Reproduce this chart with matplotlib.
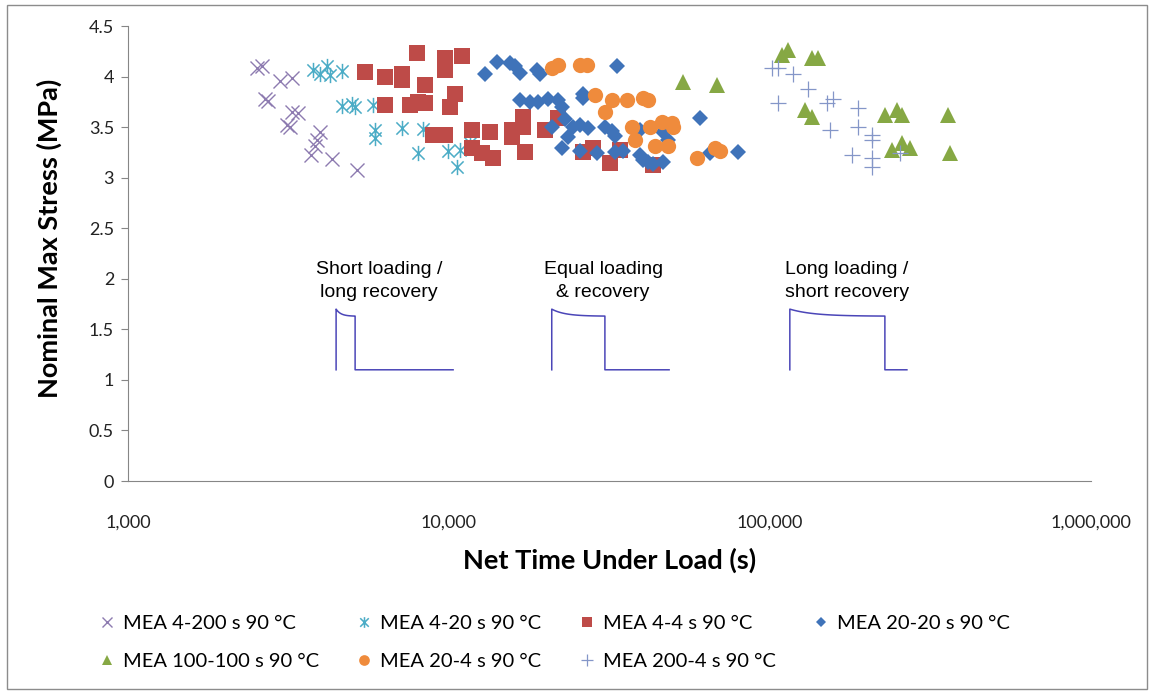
import numpy as np
import matplotlib.pyplot as plt
from matplotlib.path import Path
from matplotlib.patches import Rectangle
from matplotlib.ticker import FixedLocator, FuncFormatter, NullLocator

plt.rcParams['font.family'] = ['Lato', 'DejaVu Sans']

# net time under load (s) and nominal max stress (MPa) per test series
t_4_200 = [2520, 2610, 2980, 3240, 2670, 2730, 3240, 3390, 3120, 3200, 3960, 3870, 3830, 3730, 4310, 5160]
s_4_200 = [4.08, 4.10, 3.96, 3.99, 3.78, 3.76, 3.65, 3.64, 3.52, 3.50, 3.45, 3.37, 3.31, 3.22, 3.18, 3.08]

t_4_20 = [3780, 3960, 4160, 4260, 4630, 4630, 4980, 5100, 5810, 5880, 5880, 7120, 8320, 8020, 9950, 10820, 10560, 11610]
s_4_20 = [4.07, 4.03, 4.10, 4.02, 4.06, 3.71, 3.73, 3.70, 3.72, 3.47, 3.39, 3.49, 3.48, 3.24, 3.26, 3.27, 3.11, 3.34]

t_4_4 = [5470, 6310, 7130, 7130, 7930, 8410, 9720, 9720, 10950, 6310, 7550, 8000, 8410, 10450, 10070,
         8910, 9720, 11780, 13430, 11780, 12640, 13710, 15670, 15670, 17000, 17000, 17250, 19910,
         21880, 26140, 28100, 31750, 34120, 43240]
s_4_4 = [4.05, 4.00, 4.03, 3.97, 4.23, 3.92, 4.18, 4.07, 4.20, 3.72, 3.72, 3.75, 3.74, 3.83, 3.70,
         3.42, 3.42, 3.47, 3.45, 3.29, 3.24, 3.19, 3.47, 3.40, 3.60, 3.50, 3.25, 3.47,
         3.59, 3.25, 3.29, 3.15, 3.27, 3.13]

t_20_20 = [12940, 14080, 15500, 16070, 16650, 18760, 19200, 33270,
           16650, 17870, 18920, 20330, 21860, 22500, 26140, 26140,
           22980, 20880, 24330, 25560, 27090, 23500, 30610, 32130, 32900, 39360, 46440, 48100,
           22450, 25560, 28840, 32900, 34830, 39360, 40200, 41690, 43230, 46440, 60520, 65040, 79470]
s_20_20 = [4.03, 4.14, 4.13, 4.10, 4.04, 4.07, 4.03, 4.10,
           3.77, 3.75, 3.75, 3.78, 3.77, 3.70, 3.83, 3.79,
           3.58, 3.50, 3.50, 3.52, 3.49, 3.40, 3.50, 3.46, 3.41, 3.47, 3.45, 3.37,
           3.29, 3.26, 3.24, 3.25, 3.26, 3.22, 3.17, 3.16, 3.14, 3.16, 3.59, 3.24, 3.25]

t_100_100 = [53700, 68300, 108700, 114000, 134800, 141300, 128500, 134800,
             228000, 248100, 257100, 359000, 239200, 257100, 273000, 363700]
s_100_100 = [3.95, 3.92, 4.21, 4.26, 4.18, 4.18, 3.67, 3.60,
             3.62, 3.67, 3.62, 3.62, 3.27, 3.34, 3.29, 3.24]

t_20_4 = [20880, 21860, 25560, 26920, 28500, 32130, 35780, 40200, 41690, 30610, 37050,
          42280, 46010, 49420, 49920, 37930, 43840, 48100, 59130, 67400, 69880]
s_20_4 = [4.08, 4.11, 4.11, 4.11, 3.82, 3.77, 3.77, 3.79, 3.77, 3.65, 3.50,
          3.50, 3.55, 3.54, 3.50, 3.37, 3.31, 3.31, 3.19, 3.29, 3.26]

t_200_4 = [101200, 106100, 118200, 131600, 106100, 150100, 157400, 153700,
           188300, 188300, 207300, 207300, 179600, 207300, 207300, 254300]
s_200_4 = [4.08, 4.08, 4.03, 3.88, 3.74, 3.74, 3.78, 3.47,
           3.69, 3.50, 3.42, 3.37, 3.22, 3.19, 3.11, 3.24]

labels = ['MEA 4-200 s 90 °C', 'MEA 4-20 s 90 °C', 'MEA 4-4 s 90 °C', 'MEA 20-20 s 90 °C',
          'MEA 100-100 s 90 °C', 'MEA 20-4 s 90 °C', 'MEA 200-4 s 90 °C']

# loading waveform sketches: start of load, end of load, end of recovery
pulse_start = [4450, 20900, 115300]
pulse_fall = [5100, 30600, 228000]
pulse_end = [10300, 48500, 267000]
pulse_captions = ['Short loading /\nlong recovery', 'Equal loading\n& recovery', 'Long loading /\nshort recovery']
caption_x = [6050, 30200, 173800]

# asterisk marker: vertical stroke plus a cross
asterisk = Path([(0, -1), (0, 1), (-0.8, -0.8), (0.8, 0.8), (-0.8, 0.8), (0.8, -0.8)],
                [Path.MOVETO, Path.LINETO] * 3)

styles = [
    dict(marker='x', ms=10, mew=1.0, mec='#8d7bb0', mfc='none'),
    dict(marker=asterisk, ms=11, mew=1.1, mec='#4bacc6', mfc='none'),
    dict(marker='s', ms=11, mew=0, mfc='#be4b48'),
    dict(marker='D', ms=8, mew=0, mfc='#3f73b9'),
    dict(marker='^', ms=11, mew=0, mfc='#86a844'),
    dict(marker='o', ms=11, mew=0, mfc='#ef8b3c'),
    dict(marker='+', ms=12, mew=0.9, mec='#8496c8', mfc='none'),
]
xs = [t_4_200, t_4_20, t_4_4, t_20_20, t_100_100, t_20_4, t_200_4]
ys = [s_4_200, s_4_20, s_4_4, s_20_20, s_100_100, s_20_4, s_200_4]

fig = plt.figure(figsize=(11.54, 6.94), dpi=100)
ax = fig.add_axes([0.1109, 0.3069, 0.8345, 0.6556])

handles = []
for x, y, lab, st in zip(xs, ys, labels, styles):
    h, = ax.plot(x, y, linestyle='none', label=lab, **st)
    handles.append(h)

# waveform sketches
base, peak, sag = 1.1, 1.70, 1.63
for a, b, c, cap, cx in zip(pulse_start, pulse_fall, pulse_end, pulse_captions, caption_x):
    tx = np.logspace(np.log10(a), np.log10(b), 40)
    u = (np.log10(tx) - np.log10(a)) / (np.log10(b) - np.log10(a))
    ty = sag + (peak - sag) * np.exp(-4 * u)
    px = np.concatenate([[a], tx, [b, b, c]])
    py = np.concatenate([[base], ty, [sag, base, base]])
    ax.plot(px, py, color='#4b46b8', lw=1.1)
    ax.text(cx, 1.98, cap, ha='center', va='center', fontsize=14,
            family=['Liberation Sans', 'DejaVu Sans'], linespacing=1.45)

ax.set_xscale('log')
ax.set_xlim(1e3, 1e6)
ax.set_ylim(0, 4.5)
ax.xaxis.set_major_locator(FixedLocator([1e3, 1e4, 1e5, 1e6]))
ax.xaxis.set_minor_locator(NullLocator())
ax.xaxis.set_major_formatter(FuncFormatter(lambda v, p: '{:,.0f}'.format(v)))
ax.set_yticks(np.arange(0, 4.51, 0.5))
ax.yaxis.set_major_formatter(FuncFormatter(lambda v, p: '{:g}'.format(v)))

for side in ['top', 'right']:
    ax.spines[side].set_visible(False)
for side in ['left', 'bottom']:
    ax.spines[side].set_color('#868686')
ax.tick_params(axis='x', length=0, pad=24, labelsize=13, colors='#222222')
ax.tick_params(axis='y', length=5, width=0.8, color='#868686', pad=5, labelsize=13, labelcolor='#222222')

ax.set_xlabel('Net Time Under Load (s)', fontsize=19.5, fontweight='bold')
ax.set_ylabel('Nominal Max Stress (MPa)', fontsize=19.5, fontweight='bold')
ax.xaxis.set_label_coords(0.5, -0.146)
ax.yaxis.set_label_coords(-0.069, 0.534)

# legend filled column-wise, so reorder to read across the rows
order = [0, 4, 1, 5, 2, 6, 3]
fig.legend([handles[i] for i in order], [labels[i] for i in order], ncol=4,
           loc='upper left', bbox_to_anchor=(0.068, 0.140), frameon=False,
           fontsize=14.5, handlelength=1.0, handletextpad=0.3, columnspacing=1.75,
           labelspacing=1.05, markerscale=0.7)

fig.patches.append(Rectangle((0.006, 0.007), 0.988, 0.986, transform=fig.transFigure,
                             fill=False, ec='#8c8c8c', lw=1))

fig.savefig('out.png', dpi=100)
